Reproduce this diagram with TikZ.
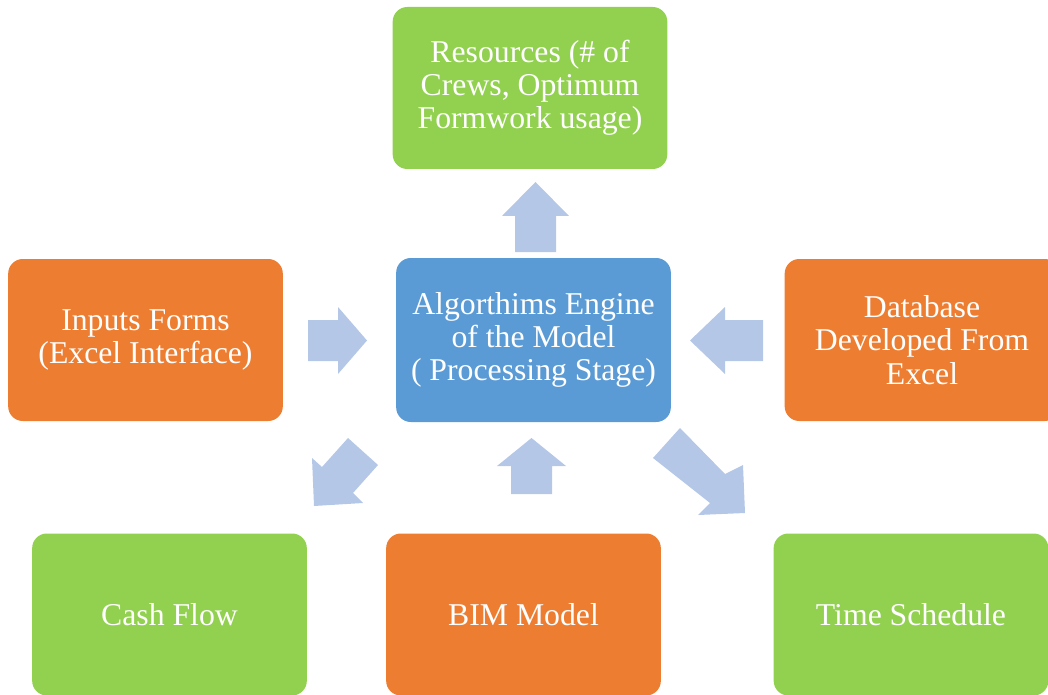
\documentclass[tikz,border=0pt]{standalone}
\usepackage{fontspec}
\setmainfont{Liberation Serif}
\usepackage{tikz}

\definecolor{boxgreen}{RGB}{146,208,80}
\definecolor{boxorange}{RGB}{237,125,49}
\definecolor{boxblue}{RGB}{91,155,213}
\definecolor{arrowblue}{RGB}{180,199,231}

\begin{document}
\begin{tikzpicture}[x=0.75pt,y=0.75pt,yscale=-1,xscale=1,
  card/.style={rectangle,rounded corners=11pt,text=white,align=center,
    minimum width=206pt,minimum height=121.5pt,inner sep=0pt,
    font=\fontsize{23.8}{24.9}\selectfont},
  greencard/.style={card,fill=boxgreen},
  orangecard/.style={card,fill=boxorange},
  bluecard/.style={card,fill=boxblue,minimum height=123pt},
  blockarrow/.style={fill=arrowblue}]
\useasboundingbox (0,0) rectangle (1048,695);
\clip (0,0) rectangle (1048,695);

% Boxes
\node [greencard]  (resources) at (530,88)    {Resources (\# of\\Crews, Optimum\\Formwork usage)};
\node [bluecard]   (engine)    at (533.5,340) {Algorthims Engine\\of the Model\\( Processing Stage)};
\node [orangecard] (inputs)    at (145.5,340) {Inputs Forms\\(Excel Interface)};
\node [orangecard] (database)  at (922,340)   {Database\\Developed From\\Excel};
\node [greencard]  (cashflow)  at (169.5,614.5) {Cash Flow};
\node [orangecard] (bim)       at (523.5,614.5) {BIM Model};
\node [greencard]  (schedule)  at (911,614.5)   {Time Schedule};

%Shape: Up Arrow (engine to resources)
\fill [blockarrow] (515,252) -- (515,216) -- (502,216) -- (535.5,182) -- (569,216) -- (556,216) -- (556,252) -- cycle ;
%Shape: Right Arrow (inputs to engine)
\fill [blockarrow] (308,320) -- (338,320) -- (338,307) -- (367,340.5) -- (338,374) -- (338,361) -- (308,361) -- cycle ;
%Shape: Left Arrow (database to engine)
\fill [blockarrow] (763,320) -- (725,320) -- (725,307) -- (690,340.5) -- (725,374) -- (725,361) -- (763,361) -- cycle ;
%Shape: Up Arrow (bim to engine)
\fill [blockarrow] (511,494) -- (511,466) -- (497,466) -- (531.5,438) -- (566,466) -- (552,466) -- (552,494) -- cycle ;
%Shape: Down Left Arrow (engine to cash flow)
\fill [blockarrow] (348,438) -- (378,465) -- (353,493) -- (363,503) -- (314,506) -- (312,458) -- (322,467) -- cycle ;
%Shape: Down Right Arrow (engine to schedule)
\fill [blockarrow] (680,428) -- (725,474) -- (743,465) -- (745,513) -- (698,515) -- (710,503) -- (653,458) -- cycle ;

\end{tikzpicture}
\end{document}
